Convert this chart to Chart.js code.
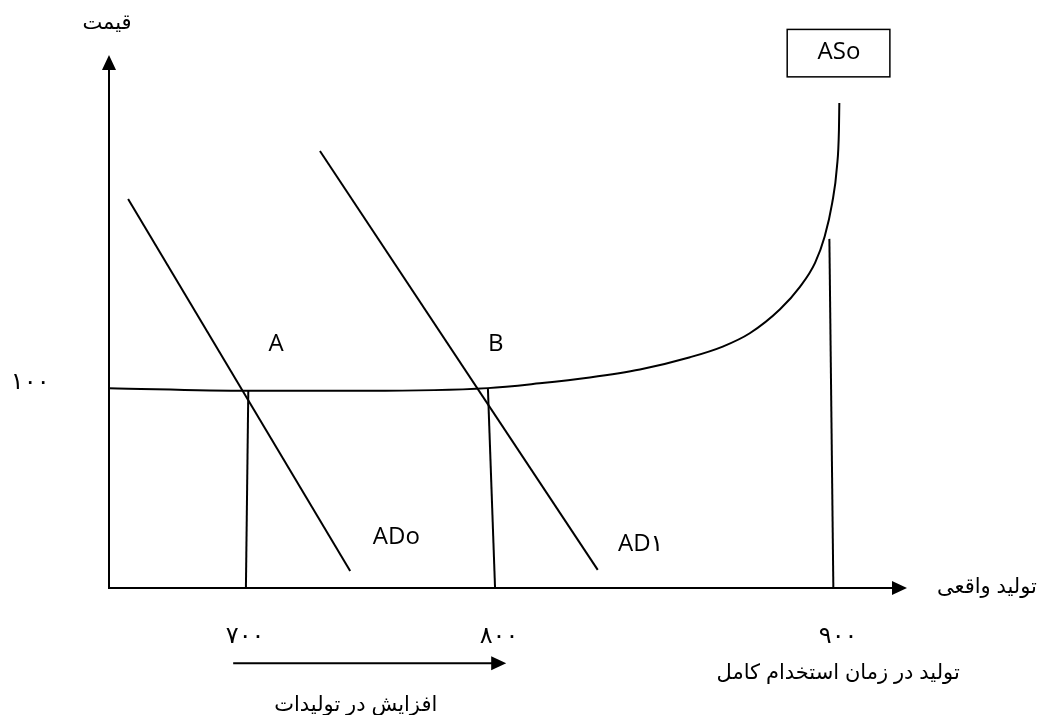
<!DOCTYPE html>
<html>
<head>
<meta charset="utf-8">
<script src="https://cdn.jsdelivr.net/npm/chart.js@4.4.0/dist/chart.umd.min.js"></script>
<style>
  body { margin: 0; background: #fff; }
  canvas { display: block; }
</style>
</head>
<body>
<canvas id="as-ad-chart" width="1042" height="715"></canvas>
<script>
// Schematic units: x = output (0..100), y = price level (0..100)
// Aggregate supply curve ASo
let asX = [0, 17.5, 32.4, 47.6, 54.1, 60.4, 66.7, 73.0, 77.1, 80.5, 84.3, 86.8, 88.7, 89.9, 90.85, 91.45, 91.7, 91.75];
let asY = [37.5, 37.0, 37.0, 37.5, 38.4, 39.5, 41.0, 43.3, 45.3, 47.8, 52.3, 56.5, 61.0, 65.9, 72.2, 79.0, 85.9, 91.0];

// Aggregate demand lines
let ad0X = [2.4, 30.3];
let ad0Y = [73.0, 3.2];
let ad1X = [26.5, 61.4];
let ad1Y = [82.0, 3.4];

// Drop lines from the equilibria (A, B) and at full employment
let drop700X = [17.5, 17.2];
let drop700Y = [37.0, 0];
let drop800X = [47.6, 48.5];
let drop800Y = [37.5, 0];
let drop900X = [90.5, 91.0];
let drop900Y = [65.5, 0];

// Tick labels
let xTickLabels = ['۷۰۰', '۸۰۰', '۹۰۰'];
let xTickValues = [17.1, 49.0, 91.6];
let yTickLabels = ['۱۰۰'];
let yTickValues = [38.5];

// Titles
let yTitle = 'قیمت';
let xTitle = 'تولید واقعی';
let fullEmployment = 'تولید در زمان استخدام کامل';
let growthText = 'افزایش در تولیدات';

function toPoints(xs, ys) {
  return xs.map((x, i) => ({ x: x, y: ys[i] }));
}

function lineSet(label, xs, ys, width, smooth) {
  let ds = {
    label: label,
    data: toPoints(xs, ys),
    showLine: true,
    borderColor: '#000',
    borderWidth: width,
    pointRadius: 0,
    tension: 0,
    fill: false
  };
  if (smooth) {
    ds.cubicInterpolationMode = 'monotone';
  }
  return ds;
}

function arrowHead(ctx, tipX, tipY, dir) {
  // dir: 'up' or 'right'
  ctx.beginPath();
  if (dir === 'up') {
    ctx.moveTo(tipX, tipY);
    ctx.lineTo(tipX - 7, tipY + 15);
    ctx.lineTo(tipX + 7, tipY + 15);
  } else {
    ctx.moveTo(tipX, tipY);
    ctx.lineTo(tipX - 15, tipY - 7);
    ctx.lineTo(tipX - 15, tipY + 7);
  }
  ctx.closePath();
  ctx.fill();
}

// Draw the axes, arrows and all text annotations
const diagramPlugin = {
  id: 'diagram',
  afterDraw(chart) {
    const ctx = chart.ctx;
    const xs = chart.scales.x;
    const ys = chart.scales.y;
    const px = v => xs.getPixelForValue(v);
    const py = v => ys.getPixelForValue(v);

    ctx.save();
    ctx.strokeStyle = '#000';
    ctx.fillStyle = '#000';

    // axes
    ctx.lineWidth = 2;
    ctx.beginPath();
    ctx.moveTo(px(0), py(100) + 10);
    ctx.lineTo(px(0), py(0));
    ctx.lineTo(px(100) - 10, py(0));
    ctx.stroke();
    arrowHead(ctx, px(0), py(100), 'up');
    arrowHead(ctx, px(100) + 2, py(0), 'right');

    // growth arrow under the axis
    ctx.beginPath();
    ctx.moveTo(px(15.6), py(-14.1));
    ctx.lineTo(px(49.9) - 10, py(-14.1));
    ctx.stroke();
    arrowHead(ctx, px(49.9), py(-14.1), 'right');

    // ASo box
    ctx.lineWidth = 1.5;
    ctx.strokeRect(px(85.2), py(104.8), px(98.1) - px(85.2), py(95.9) - py(104.8));

    // Latin labels
    ctx.font = '24px "Open Sans", "DejaVu Sans", sans-serif';
    ctx.textAlign = 'center';
    ctx.textBaseline = 'middle';
    ctx.fillText('ASo', px(91.7), py(100.5));
    ctx.fillText('A', px(21.0), py(45.8));
    ctx.fillText('B', px(48.6), py(45.8));
    ctx.fillText('ADo', px(36.1), py(9.6));

    // AD1 label is clipped at its bottom in the source
    ctx.save();
    ctx.beginPath();
    ctx.rect(px(60), py(14), px(72) - px(60), py(6.75) - py(14));
    ctx.clip();
    ctx.fillText('AD۱', px(66.8), py(8.3));
    ctx.restore();

    // Persian texts
    ctx.font = '21px Arial, "DejaVu Sans", sans-serif';
    ctx.fillText(yTitle, px(-0.25), py(106.0));
    ctx.fillText(xTitle, px(110.3), py(0.2));
    ctx.fillText(fullEmployment, px(91.6), py(-16.0));
    ctx.fillText(growthText, px(31.0), py(-22.0));

    ctx.font = '24px Arial, "DejaVu Sans", sans-serif';
    xTickLabels.forEach((t, i) => ctx.fillText(t, px(xTickValues[i]), py(-9.0)));
    yTickLabels.forEach((t, i) => ctx.fillText(t, px(-9.9), py(yTickValues[i])));

    ctx.restore();
  }
};

let diagram = new Chart('as-ad-chart', {
  type: 'scatter',
  data: {
    datasets: [
      lineSet('ASo', asX, asY, 2, true),
      lineSet('ADo', ad0X, ad0Y, 2),
      lineSet('AD1', ad1X, ad1Y, 2),
      lineSet('700', drop700X, drop700Y, 2),
      lineSet('800', drop800X, drop800Y, 2),
      lineSet('900', drop900X, drop900Y, 2)
    ]
  },
  options: {
    responsive: false,
    animation: false,
    devicePixelRatio: 1,
    layout: {
      padding: { left: 109, right: 137, top: 55, bottom: 127 }
    },
    plugins: {
      legend: { display: false },
      tooltip: { enabled: false }
    },
    scales: {
      x: { type: 'linear', min: 0, max: 100, display: false },
      y: { type: 'linear', min: 0, max: 100, display: false }
    }
  },
  plugins: [diagramPlugin]
});
</script>
</body>
</html>
